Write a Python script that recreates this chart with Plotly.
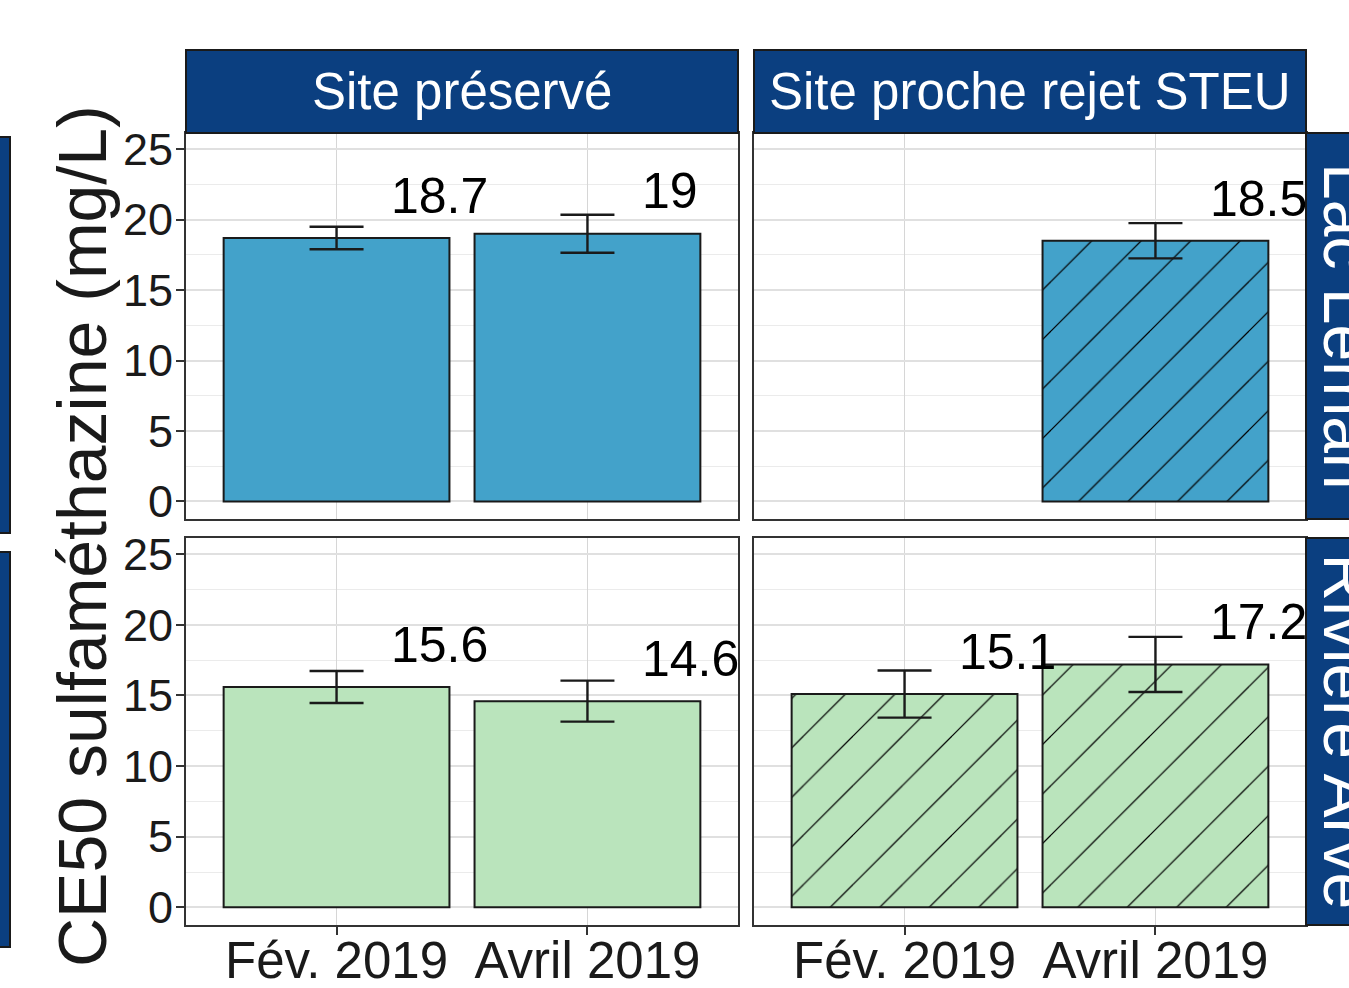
import plotly.graph_objects as go

# Sampling months, sites and water bodies
months = ["Fév. 2019", "Avril 2019"]
sites = ["Site préservé", "Site proche rejet STEU"]
waters = ["Lac Léman", "Rivière Arve"]

# CE50 sulfaméthazine means (mg/L) and error half-widths
lac_preserve = [18.7, 19.0]
lac_preserve_err = [0.8, 1.35]
lac_steu = [None, 18.5]
lac_steu_err = [None, 1.25]
arve_preserve = [15.6, 14.6]
arve_preserve_err = [1.13, 1.45]
arve_steu = [15.1, 17.2]
arve_steu_err = [1.67, 1.95]

y_ticks = [0, 5, 10, 15, 20, 25]
y_minor = [2.5, 7.5, 12.5, 17.5, 22.5]

W, H = 1349, 988
SANS = "Liberation Sans, Arial, Helvetica, sans-serif"
STRIP = "#0b3f80"
EDGE = "#1a1a1a"
FILL = {"Lac Léman": "#43a2ca", "Rivière Arve": "#bae4bc"}


def px_x(p):
    return p / W


def px_y(p):
    return 1 - p / H


# panel pixel boxes: columns (left, right), rows (top, bottom)
cols = [(186, 738), (754, 1306)]
rows = [(133, 519), (538, 925)]

panels = {
    ("Lac Léman", "Site préservé"): (lac_preserve, lac_preserve_err),
    ("Lac Léman", "Site proche rejet STEU"): (lac_steu, lac_steu_err),
    ("Rivière Arve", "Site préservé"): (arve_preserve, arve_preserve_err),
    ("Rivière Arve", "Site proche rejet STEU"): (arve_steu, arve_steu_err),
}

fig = go.Figure()
layout = dict(
    width=W, height=H, margin=dict(l=0, r=0, t=0, b=0, pad=0, autoexpand=False),
    paper_bgcolor="white", plot_bgcolor="white", showlegend=False,
    font=dict(family=SANS, color="#1a1a1a"),
)
annotations = []
shapes = []

k = 0
for ri, water in enumerate(waters):
    for ci, site in enumerate(sites):
        k += 1
        xa = "x" if k == 1 else f"x{k}"
        ya = "y" if k == 1 else f"y{k}"
        vals, errs = panels[(water, site)]
        marker = dict(color=FILL[water], line=dict(color=EDGE, width=2))
        if ci == 1:
            marker["pattern"] = dict(shape="/", fgcolor="#000000", bgcolor=FILL[water],
                                     size=35, solidity=0.035, fillmode="replace")
        fig.add_trace(go.Bar(
            x=[0, 1], y=vals, width=0.9, marker=marker,
            error_y=dict(type="data", array=errs, color=EDGE, thickness=2.4, width=27),
            xaxis=xa, yaxis=ya, hoverinfo="skip",
        ))
        for i, v in enumerate(vals):
            if v is None:
                continue
            annotations.append(dict(
                x=i + 0.21, y=v + 3, xref=xa, yref=ya, text=f"{v:g}",
                showarrow=False, xanchor="left", yanchor="middle",
                font=dict(size=50, family=SANS, color="black"),
            ))
        l, r = cols[ci]
        t, b = rows[ri]
        axkey = "xaxis" if k == 1 else f"xaxis{k}"
        aykey = "yaxis" if k == 1 else f"yaxis{k}"
        layout[axkey] = dict(
            domain=[px_x(l), px_x(r)], anchor=ya, range=[-0.6, 1.6], automargin=False,
            tickvals=[0, 1], ticktext=months, showticklabels=(ri == 1),
            ticks="outside" if ri == 1 else "", ticklen=8, tickwidth=2, tickcolor="#333333",
            ticklabelstandoff=-18,
            showgrid=True, gridcolor="#d6d6d6", gridwidth=1.2,
            showline=True, mirror=True, linecolor="#333333", linewidth=2,
            zeroline=False, tickfont=dict(size=51, family=SANS, color="#1a1a1a"),
        )
        layout[aykey] = dict(
            domain=[px_y(b), px_y(t)], anchor=xa, range=[-1.25, 26.15], automargin=False,
            tickvals=y_ticks, showticklabels=(ci == 0),
            ticks="outside" if ci == 0 else "", ticklen=8, tickwidth=2, tickcolor="#333333",
            ticklabelstandoff=-6,
            showgrid=True, gridcolor="#e0e0e0", gridwidth=2,
            minor=dict(tickvals=y_minor, showgrid=True, gridcolor="#ebebeb", gridwidth=1.2),
            showline=True, mirror=True, linecolor="#333333", linewidth=2,
            zeroline=False, tickfont=dict(size=45, family=SANS, color="#1a1a1a"),
        )

# column strips on top
for ci, site in enumerate(sites):
    l, r = cols[ci]
    shapes.append(dict(type="rect", xref="paper", yref="paper",
                       x0=px_x(l), x1=px_x(r), y0=px_y(133), y1=px_y(50),
                       fillcolor=STRIP, line=dict(color=EDGE, width=2), layer="above"))
    annotations.append(dict(x=px_x((l + r) / 2), y=px_y(91.5), xref="paper", yref="paper",
                            text=site, showarrow=False, xanchor="center", yanchor="middle",
                            font=dict(size=51, family=SANS, color="white")))

# row strips on the right, running past the edge
for ri, water in enumerate(waters):
    t, b = rows[ri]
    shapes.append(dict(type="rect", xref="paper", yref="paper",
                       x0=px_x(1306), x1=px_x(1389), y0=px_y(b), y1=px_y(t),
                       fillcolor=STRIP, line=dict(color=EDGE, width=2), layer="above"))
    annotations.append(dict(x=px_x(1347), y=px_y((t + b) / 2), xref="paper", yref="paper",
                            text=water, showarrow=False, textangle=90,
                            xanchor="center", yanchor="middle",
                            font=dict(size=66, family=SANS, color="white")))

# neighbouring strip edges at the far left
for t, b in [(137, 533), (552, 947)]:
    shapes.append(dict(type="rect", xref="paper", yref="paper",
                       x0=px_x(-20), x1=px_x(10), y0=px_y(b), y1=px_y(t),
                       fillcolor=STRIP, line=dict(color=EDGE, width=2), layer="above"))

# shared y-axis title
annotations.append(dict(x=px_x(82), y=px_y(536), xref="paper", yref="paper",
                        text="CE50 sulfaméthazine (mg/L)", showarrow=False, textangle=-90,
                        xanchor="center", yanchor="middle",
                        font=dict(size=68, family=SANS, color="#1a1a1a")))

layout["annotations"] = annotations
layout["shapes"] = shapes
fig.update_layout(**layout)
fig.write_html("out.html")
